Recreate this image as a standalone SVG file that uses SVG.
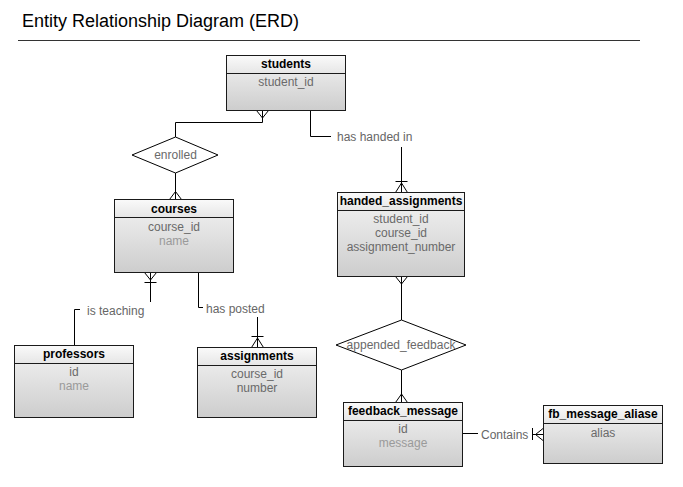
<svg xmlns="http://www.w3.org/2000/svg" width="683" height="487" viewBox="0 0 683 487">
<defs>
<linearGradient id="hg" x1="0" y1="0" x2="0" y2="1"><stop offset="0" stop-color="#fafafa"/><stop offset="1" stop-color="#e6e6e6"/></linearGradient>
<linearGradient id="bg" x1="0" y1="0" x2="0" y2="1"><stop offset="0" stop-color="#f4f4f4"/><stop offset="1" stop-color="#cdcdcd"/></linearGradient>
</defs>
<style>
text{font-family:"Liberation Sans",Arial,sans-serif;font-size:12px;text-anchor:middle}
.t{font-weight:bold;fill:#000}
.k{fill:#6a6a6a}
.n{fill:#9a9a9a}
.l{fill:#666;text-anchor:start}
.hd{fill:url(#hg);stroke:#1a1a1a;stroke-width:1}
.bd{fill:url(#bg);stroke:#1a1a1a;stroke-width:1}
.c{fill:none;stroke:#000;stroke-width:1}
.d{fill:#fff;stroke:#000;stroke-width:1}
</style>
<rect width="683" height="487" fill="#fff"/>
<text x="22" y="27" style="font-size:18px;text-anchor:start;fill:#000">Entity Relationship Diagram (ERD)</text>
<line x1="18" y1="40.5" x2="640" y2="40.5" stroke="#333" stroke-width="1"/>

<g id="connectors">
<path class="c" d="M262.5,110.5 V122.5 H175.5 V137"/>
<path class="c" d="M256.5,110.5 L262.5,118 L268.5,110.5"/>
<path class="c" d="M175.5,173 V199.5"/>
<path class="c" d="M169.5,199.5 L175.5,191.5 L181.5,199.5"/>
<path class="c" d="M310.5,110.5 V136.5 H331"/>
<path class="c" d="M401.5,147 V192.5"/>
<path class="c" d="M395.5,181.5 H407.5 M395.5,192.5 L401.5,183 L407.5,192.5"/>
<path class="c" d="M401.5,276.5 V320"/>
<path class="c" d="M395.5,276.5 L401.5,284 L407.5,276.5"/>
<path class="c" d="M401.5,370 V402.5"/>
<path class="c" d="M395.5,402.5 L401.5,394 L407.5,402.5"/>
<path class="c" d="M150.5,272.5 V302"/>
<path class="c" d="M144.5,272.5 L150.5,280 L156.5,272.5 M144.5,282.5 H156.5"/>
<path class="c" d="M74.5,345.5 V309.5 H80"/>
<path class="c" d="M198.5,272.5 V307.5 H203"/>
<path class="c" d="M257.5,317 V347.5"/>
<path class="c" d="M251.5,336.5 H263.5 M251.5,347.5 L257.5,338 L263.5,347.5"/>
<path class="c" d="M463,433.5 H478"/>
<path class="c" d="M532.5,428 V440 M533,434.5 H543 M543,428.5 L535.5,434.5 L543,440.5"/>
<text class="l" x="337" y="141">has handed in</text>
<text class="l" x="87" y="315">is teaching</text>
<text class="l" x="206" y="313">has posted</text>
<text class="l" x="481" y="439">Contains</text>
</g>

<g id="enrolled">
<polygon class="d" points="175.5,137 218,155 175.5,173 132,155"/>
<text class="k" x="175.5" y="159">enrolled</text>
</g>
<g id="appended_feedback">
<polygon class="d" points="401.5,320 466,345 401.5,370 336,345"/>
<text class="k" x="401" y="349">appended_feedback</text>
</g>

<g id="students">
<rect class="bd" x="226.5" y="55.5" width="119" height="55"/>
<rect class="hd" x="226.5" y="55.5" width="119" height="18"/>
<text class="t" x="286" y="68">students</text>
<text class="k" x="286" y="86">student_id</text>
</g>
<g id="courses">
<rect class="bd" x="114.5" y="199.5" width="119" height="73"/>
<rect class="hd" x="114.5" y="199.5" width="119" height="18"/>
<text class="t" x="174" y="213">courses</text>
<text class="k" x="174" y="231">course_id</text>
<text class="n" x="174" y="245">name</text>
</g>
<g id="handed_assignments">
<rect class="bd" x="337.5" y="192.5" width="127" height="84"/>
<rect class="hd" x="337.5" y="192.5" width="127" height="18"/>
<text class="t" x="401" y="205">handed_assignments</text>
<text class="k" x="401" y="223">student_id</text>
<text class="k" x="401" y="237">course_id</text>
<text class="k" x="401" y="251">assignment_number</text>
</g>
<g id="professors">
<rect class="bd" x="14.5" y="345.5" width="119" height="72"/>
<rect class="hd" x="14.5" y="345.5" width="119" height="18"/>
<text class="t" x="74" y="358">professors</text>
<text class="k" x="74" y="376">id</text>
<text class="n" x="74" y="390">name</text>
</g>
<g id="assignments">
<rect class="bd" x="197.5" y="347.5" width="119" height="70"/>
<rect class="hd" x="197.5" y="347.5" width="119" height="18"/>
<text class="t" x="257" y="360">assignments</text>
<text class="k" x="257" y="378">course_id</text>
<text class="k" x="257" y="392">number</text>
</g>
<g id="feedback_message">
<rect class="bd" x="343.5" y="402.5" width="119" height="64"/>
<rect class="hd" x="343.5" y="402.5" width="119" height="18"/>
<text class="t" x="403" y="415">feedback_message</text>
<text class="k" x="403" y="433">id</text>
<text class="n" x="403" y="447">message</text>
</g>
<g id="fb_message_aliase">
<rect class="bd" x="543.5" y="405.5" width="119" height="58"/>
<rect class="hd" x="543.5" y="405.5" width="119" height="18"/>
<text class="t" x="603" y="418">fb_message_aliase</text>
<text class="k" x="603" y="437">alias</text>
</g>
</svg>
